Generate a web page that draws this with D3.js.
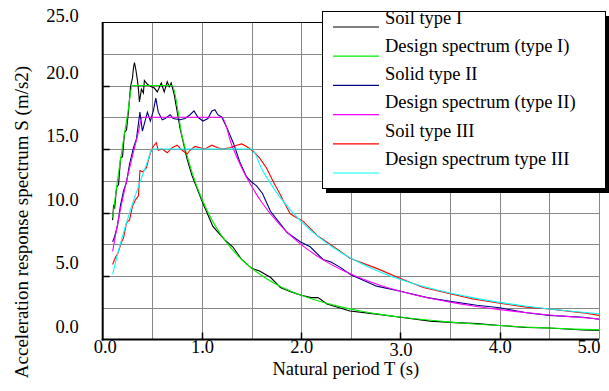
<!DOCTYPE html>
<html><head><meta charset="utf-8">
<script src="https://cdn.jsdelivr.net/npm/d3@7"></script>
<style>
html,body{margin:0;padding:0;background:#fff;}
svg{display:block;font-family:"Liberation Serif","Times New Roman",serif;}
</style></head>
<body>
<svg id="chart" width="609" height="391"></svg>
<script>
// ---- data ----
const seriesNames = ["Soil type I","Design spectrum (type I)","Solid type II","Design spectrum (type II)","Soil type III","Design spectrum type III"];
const seriesColors = ["#000000","#00ee00","#000080","#ff00ff","#ff0000","#00ffff"];

const designT = [0.1,0.15,0.2,0.25,0.3,0.35,0.4,0.45,0.5,0.6,0.7,0.8,0.9,1.0,1.1,1.2,1.3,1.4,1.5,1.6,1.8,2.0,2.2,2.4,2.6,2.8,3.0,3.25,3.5,3.75,4.0,4.25,4.5,4.75,5.0];
const designI  = [9.61,12.60,15.26,17.71,20.0,20.0,20.0,20.0,20.0,20.0,20.0,16.01,13.16,11.04,9.42,8.15,7.13,6.30,5.62,5.04,4.14,3.48,2.97,2.57,2.25,1.98,1.77,1.55,1.37,1.22,1.10,0.99,0.90,0.82,0.76];
const designII = [6.94,9.10,11.03,12.80,14.45,16.01,17.5,17.5,17.5,17.5,17.5,17.5,17.5,17.5,17.5,17.5,15.31,13.53,12.06,10.83,8.90,7.47,6.37,5.51,4.82,4.26,3.80,3.32,2.94,2.62,2.35,2.13,1.93,1.77,1.62];
const designIII= [5.13,6.72,8.14,9.45,10.67,11.82,12.93,13.98,15.0,15.0,15.0,15.0,15.0,15.0,15.0,15.0,15.0,15.0,15.0,13.47,11.07,9.29,7.92,6.85,6.00,5.30,4.72,4.13,3.66,3.26,2.92,2.64,2.40,2.20,2.02];

const soilIT = [0.1,0.11,0.12,0.14,0.16,0.18,0.2,0.22,0.24,0.26,0.28,0.3,0.31,0.32,0.335,0.35,0.36,0.37,0.39,0.41,0.42,0.45,0.49,0.52,0.55,0.59,0.62,0.65,0.67,0.69,0.72,0.78,0.85,0.9,1.0,1.11,1.23,1.31,1.4,1.5,1.58,1.69,1.79,1.9,1.99,2.1,2.17,2.26,2.49,2.76,3.0,3.3,3.5,3.77,4.0,4.27,4.5,4.84,5.0];
const soilIS = [9.4,10.6,10.3,12.0,12.2,14.3,14.4,16.3,16.5,18.0,19.9,20.6,21.4,21.8,21.2,20.4,19.7,18.7,19.7,19.4,20.4,20.1,19.9,19.8,19.5,20.2,19.5,20.3,19.9,20.2,19.3,16.6,14.2,12.9,10.9,8.9,7.85,7.3,6.3,5.6,5.4,4.9,4.1,3.75,3.5,3.3,3.3,2.8,2.25,2.0,1.75,1.45,1.35,1.25,1.1,0.95,0.9,0.75,0.72];

const soilIIT = [0.1,0.12,0.15,0.18,0.21,0.24,0.27,0.31,0.34,0.375,0.4,0.43,0.45,0.48,0.51,0.535,0.56,0.6,0.63,0.68,0.71,0.78,0.83,0.88,0.92,0.96,1.01,1.06,1.1,1.13,1.16,1.2,1.25,1.32,1.38,1.45,1.5,1.55,1.61,1.69,1.76,1.86,1.99,2.09,2.22,2.3,2.39,2.5,2.76,3.0,3.27,3.5,3.77,4.0,4.27,4.5,4.84,5.0];
const soilIIS = [7.7,8.1,9.0,10.6,11.7,12.4,13.8,15.1,15.8,17.9,16.4,17.3,17.9,17.2,18.0,19.0,17.9,17.3,17.4,17.7,17.4,17.3,17.4,17.7,18.0,17.5,17.2,17.4,18.0,18.1,17.7,17.5,16.7,15.4,14.0,12.8,12.4,12.1,11.5,10.1,9.4,8.4,7.7,7.3,6.3,6.1,5.7,5.1,4.2,3.8,3.3,3.0,2.7,2.5,2.1,1.9,1.75,1.6];

const soilIIIT = [0.1,0.13,0.155,0.185,0.21,0.24,0.27,0.3,0.33,0.36,0.375,0.4,0.44,0.48,0.51,0.54,0.56,0.6,0.65,0.7,0.75,0.8,0.85,0.88,0.93,0.98,1.03,1.1,1.16,1.21,1.28,1.35,1.4,1.45,1.52,1.58,1.65,1.72,1.79,1.82,1.89,1.95,2.02,2.16,2.29,2.42,2.49,2.76,3.0,3.23,3.5,3.73,4.0,4.27,4.5,4.84,5.0];
const soilIIIS = [5.9,6.5,6.8,7.6,8.0,9.2,9.4,10.5,11.0,11.3,13.3,13.2,13.5,14.7,15.2,15.5,14.9,15.0,14.7,15.1,15.3,14.9,14.6,14.9,15.2,15.1,15.0,15.3,15.1,15.0,15.1,15.3,15.4,15.2,14.8,14.3,13.5,12.4,11.4,10.9,9.9,9.6,9.3,8.2,7.5,6.8,6.4,5.6,4.8,4.1,3.6,3.2,2.85,2.55,2.4,2.1,1.9];

const xTicks = [0,1,2,3,4,5];
const yTicks = [0,5,10,15,20,25];
const xTitle = "Natural period T (s)";
const yTitle = "Acceleration response spectrum S (m/s2)";

// ---- drawing ----
const svg = d3.select("#chart");
const x = d3.scaleLinear().domain([0,5]).range([102.7,599]);
const y = d3.scaleLinear().domain([0,25]).range([339.5,22]);
const FS = 18.5;

const series = [
  {T:soilIT, S:soilIS},
  {T:designT, S:designI},
  {T:soilIIT, S:soilIIS},
  {T:designT, S:designII},
  {T:soilIIIT, S:soilIIIS},
  {T:designT, S:designIII}
];

// grid
const grid = svg.append("g");
grid.selectAll("line.v").data(d3.range(1,11).map(i=>i*0.5)).join("line")
  .attr("x1",d=>Math.round(x(d))+0.5).attr("x2",d=>Math.round(x(d))+0.5)
  .attr("y1",y(25)).attr("y2",y(0)).attr("stroke","#888").attr("stroke-width",1);
grid.selectAll("line.h").data(d3.range(1,10).map(i=>i*2.5)).join("line")
  .attr("y1",d=>Math.round(y(d))+0.5).attr("y2",d=>Math.round(y(d))+0.5)
  .attr("x1",x(0)).attr("x2",x(5)).attr("stroke","#888").attr("stroke-width",1);
// top border
svg.append("line").attr("x1",x(0)).attr("x2",x(5)).attr("y1",Math.round(y(25))+0.5).attr("y2",Math.round(y(25))+0.5).attr("stroke","#000");

// curves
const line = d3.line().x(d=>x(d[0])).y(d=>y(d[1]));
series.forEach((s,i)=>{
  const pts = s.T.map((t,j)=>[t,s.S[j]]);
  const isDesign = i%2===1;
  svg.append("path").datum(pts)
    .attr("d", isDesign ? line.curve(d3.curveMonotoneX)(pts) : line.curve(d3.curveLinear)(pts))
    .attr("fill","none").attr("stroke",seriesColors[i]).attr("stroke-width",1.1);
});

// axes
const xAxis = svg.append("g").attr("transform",`translate(0,${y(0)})`)
  .call(d3.axisBottom(x).tickValues(xTicks).tickSize(0).tickPadding(0).tickFormat(d3.format(".1f")));
xAxis.select(".domain").remove();
xAxis.selectAll("text").attr("font-size",FS).attr("fill","#000").attr("font-family","Liberation Serif, serif");
xAxis.selectAll(".tick").filter(d=>d===5).select("text").attr("text-anchor","end").attr("x",1);
xAxis.selectAll(".tick").filter(d=>d===0).select("text").attr("x",2);
xAxis.selectAll(".tick").filter(d=>d===3).select("text").attr("dy","0.88em");

const yAxis = svg.append("g").attr("transform",`translate(${x(0)},0)`)
  .call(d3.axisLeft(y).tickValues(yTicks).tickSize(0).tickPadding(24).tickFormat(d3.format(".1f")));
yAxis.select(".domain").remove();
yAxis.selectAll("text").attr("font-size",FS).attr("fill","#000").attr("font-family","Liberation Serif, serif")
  .attr("dy", d=> d===25 ? "-0.05em" : "-0.38em");

// inward major ticks
svg.append("g").selectAll("line").data(yTicks.slice(1,5)).join("line")
  .attr("x1",x(0)).attr("x2",x(0)+7).attr("y1",d=>Math.round(y(d))+0.5).attr("y2",d=>Math.round(y(d))+0.5)
  .attr("stroke","#000").attr("stroke-width",1.5);
svg.append("g").selectAll("line").data(xTicks.slice(1,5)).join("line")
  .attr("x1",d=>Math.round(x(d))+0.5).attr("x2",d=>Math.round(x(d))+0.5).attr("y1",y(0)).attr("y2",y(0)-7)
  .attr("stroke","#000").attr("stroke-width",1.5);

// axis lines
svg.append("line").attr("x1",x(0)).attr("x2",x(0)).attr("y1",y(25)).attr("y2",y(0)+1).attr("stroke","#000").attr("stroke-width",2);
svg.append("line").attr("x1",x(0)-1).attr("x2",x(5)).attr("y1",y(0)).attr("y2",y(0)).attr("stroke","#000").attr("stroke-width",2);

// titles
svg.append("text").attr("x",(x(0)+x(5))/2-5).attr("y",375).attr("text-anchor","middle")
  .attr("font-size",FS).text(xTitle);
svg.append("text").attr("transform","translate(28,222) rotate(-90)").attr("text-anchor","middle")
  .attr("font-size",FS+0.5).text(yTitle);

// legend
const lg = svg.append("g");
lg.append("rect").attr("x",326).attr("y",16).attr("width",283).attr("height",177).attr("fill","#000");
lg.append("rect").attr("x",322.5).attr("y",11.5).attr("width",283).attr("height",177).attr("fill","#fff").attr("stroke","#000").attr("stroke-width",1);
seriesNames.forEach((n,i)=>{
  lg.append("line").attr("x1",333).attr("x2",379).attr("y1",27+i*29.2).attr("y2",27+i*29.2)
    .attr("stroke",seriesColors[i]).attr("stroke-width",1.2);
  lg.append("text").attr("x",385).attr("y",23.5+i*28.3).attr("font-size",FS).text(n);
});
</script>
</body></html>
